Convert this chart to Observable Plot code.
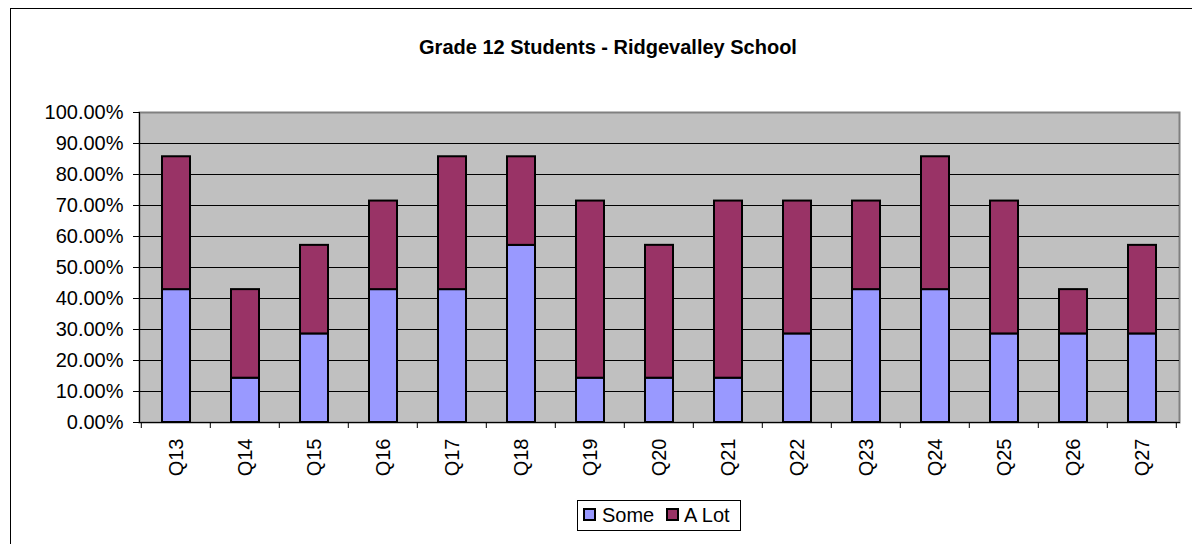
<!DOCTYPE html>
<html>
<head>
<meta charset="utf-8">
<script src="https://cdn.jsdelivr.net/npm/d3@7"></script>
<script src="https://cdn.jsdelivr.net/npm/@observablehq/plot@0.6"></script>
<style>
  html, body { margin: 0; padding: 0; background: #fff; }
  body { width: 1192px; height: 544px; position: relative; overflow: hidden; font-family: Arial, "Liberation Sans", sans-serif; }
  #frame { position: absolute; left: 10px; top: 8px; width: 1300px; height: 600px; border: 1px solid #000; box-sizing: border-box; }
  #chart { position: absolute; left: 0; top: 0; }
  #title { position: absolute; left: 0; width: 1216px; top: 35px; text-align: center; font-weight: bold; font-size: 20px; line-height: 24px; color: #000; }
  #legend { position: absolute; left: 577px; top: 500px; width: 164px; height: 31px; border: 1px solid #000; box-sizing: border-box; background: #fff; font-size: 20px; }
  .sw { position: absolute; top: 7px; width: 13px; height: 13px; border: 2px solid #000; box-sizing: border-box; }
  .lt { position: absolute; top: 2px; line-height: 24px; }
</style>
</head>
<body>
<div id="frame"></div>
<div id="chart"></div>
<div id="title">Grade 12 Students - Ridgevalley School</div>
<div id="legend"></div>
<script>
const questions = ["Q13","Q14","Q15","Q16","Q17","Q18","Q19","Q20","Q21","Q22","Q23","Q24","Q25","Q26","Q27"];
const some =  [0.4286,0.1429,0.2857,0.4286,0.4286,0.5714,0.1429,0.1429,0.1429,0.2857,0.4286,0.4286,0.2857,0.2857,0.2857];
const aLot =  [0.4286,0.2857,0.2857,0.2857,0.4286,0.2857,0.5714,0.4286,0.5714,0.4286,0.2857,0.4286,0.4286,0.1429,0.2857];
const seriesNames = ["Some", "A Lot"];
const seriesColors = ["#9999FF", "#993366"];
const yTicks = [0,0.1,0.2,0.3,0.4,0.5,0.6,0.7,0.8,0.9,1.0];

const rows = [];
questions.forEach((q, i) => rows.push({q, series: "Some", value: some[i]}));
questions.forEach((q, i) => rows.push({q, series: "A Lot", value: aLot[i]}));

function categoryTicks(index, scales) {
  const x = scales.x, y = scales.y;
  const step = x(questions[1]) - x(questions[0]);
  const bw = step * 0.4;
  const g = d3.create("svg:g").attr("stroke", "#000").attr("stroke-width", 1);
  const y0 = y(0);
  const pos = questions.map(q => x(q) + bw / 2 - step / 2);
  pos.push(x(questions[questions.length - 1]) + bw / 2 + step / 2);
  pos.forEach(p => g.append("line").attr("x1", p).attr("x2", p).attr("y1", y0).attr("y2", y0 + 6));
  return g.node();
}

const chart = Plot.plot({
  width: 1192,
  height: 544,
  marginLeft: 139,
  marginRight: 13,
  marginTop: 112,
  marginBottom: 122,
  style: { fontFamily: 'Arial, "Liberation Sans", sans-serif', fontSize: "20px", color: "#000", background: "transparent" },
  x: { type: "band", domain: questions, paddingInner: 0.6, paddingOuter: 0.3, axis: null, label: null },
  y: { domain: [0, 1], axis: null, label: null },
  color: { domain: seriesNames, range: seriesColors },
  marks: [
    Plot.frame({ fill: "#C0C0C0", stroke: "#808080", strokeWidth: 2 }),
    Plot.ruleY(yTicks.filter(d => d > 0 && d < 1), { stroke: "#000", strokeWidth: 1 }),
    Plot.barY(rows, { x: "q", y: "value", fill: "series", stroke: "#000", strokeWidth: 2 }),
    Plot.frame({ anchor: "left", stroke: "#000", strokeWidth: 1 }),
    Plot.frame({ anchor: "bottom", stroke: "#000", strokeWidth: 1 }),
    Plot.axisY({ ticks: yTicks, tickFormat: d3.format(".2%"), tickSize: 6, tickPadding: 10, stroke: "#000", fill: "#000", label: null }),
    Plot.axisX({ tickRotate: -90, tickSize: 0, tickPadding: 16, fill: "#000", label: null }),
    categoryTicks
  ]
});
document.getElementById("chart").appendChild(chart);

const legend = document.getElementById("legend");
const legendPos = [{sw: 5, tx: 24}, {sw: 88, tx: 106}];
seriesNames.forEach((name, i) => {
  const s = document.createElement("div");
  s.className = "sw";
  s.style.left = legendPos[i].sw + "px";
  s.style.background = seriesColors[i];
  legend.appendChild(s);
  const t = document.createElement("div");
  t.className = "lt";
  t.style.left = legendPos[i].tx + "px";
  t.textContent = name;
  legend.appendChild(t);
});
</script>
</body>
</html>
